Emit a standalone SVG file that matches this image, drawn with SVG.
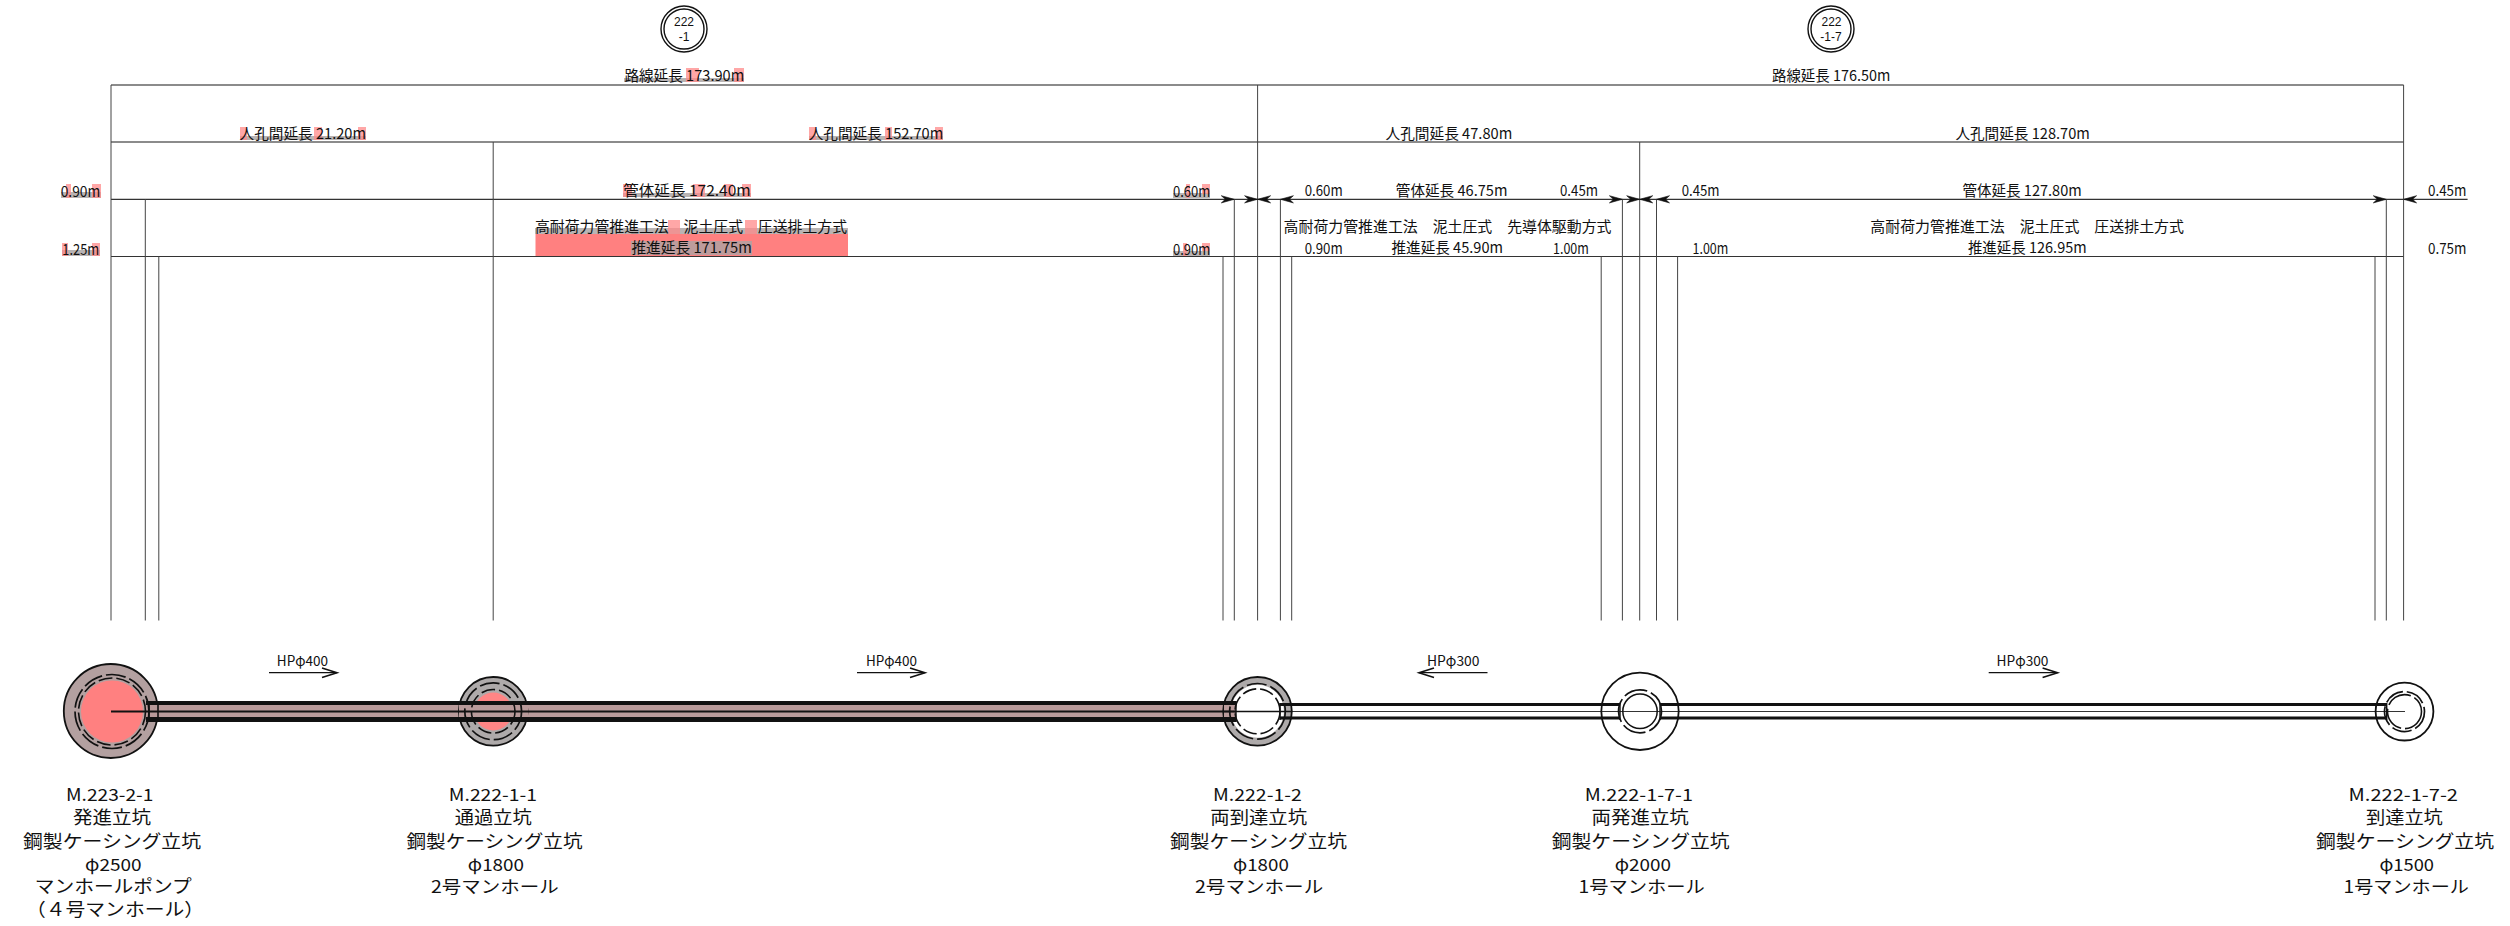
<svg xmlns="http://www.w3.org/2000/svg" width="2510" height="926" viewBox="0 0 2510 926">
<style>
text{font-family:"Noto Sans CJK JP","Liberation Sans",sans-serif;fill:#111}
.d{font-size:15px}
.l{font-size:18px}
.n{font-size:17px}
.h{font-size:14px}
text.t{font-family:"Liberation Sans",sans-serif;font-size:12px;text-anchor:middle}
.g{fill:#b9b4b4}
.p{fill:#ff8a8a;opacity:.75}
.hg{stroke:#666;stroke-width:1.6;fill:none}
.hd{stroke:#333;stroke-width:1.2;fill:none}
.v{stroke:#444;stroke-width:1;fill:none}
.o{fill:none;stroke:#111;stroke-width:1.8}
.o2{fill:none;stroke:#111;stroke-width:1.4}
.ds{fill:none;stroke:#111;stroke-width:1.7;stroke-dasharray:20 4}
.ds2{fill:none;stroke:#111;stroke-width:1.6;stroke-dasharray:14 4}
.pf{fill:#b99a9a}
.w{fill:none;stroke:#111}
.ar{stroke:#111;stroke-width:1.3;fill:none;marker-end:url(#open)}
</style>
<defs>
<marker id="open" markerUnits="userSpaceOnUse" markerWidth="20" markerHeight="14" refX="16" refY="7" orient="auto"><path d="M1,2.2 L16,7 L1,11.8" fill="none" stroke="#111" stroke-width="1.6"/></marker>
<path id="hr" d="M0,0 L-13,-3.6 L-9,0 L-13,3.6 Z" fill="#111" stroke="#111" stroke-width=".6"/>
<path id="hl" d="M0,0 L13,-3.6 L9,0 L13,3.6 Z" fill="#111" stroke="#111" stroke-width=".6"/>
</defs>
<rect width="2510" height="926" fill="#fff"/>

<g id="highlights">
<rect class="g" x="624" y="78" width="120" height="4"/><rect class="p" x="686" y="68" width="13" height="14"/><rect class="p" x="734" y="68" width="10" height="14"/>
<rect class="g" x="240" y="136" width="126" height="4"/><rect class="p" x="240" y="127" width="7" height="13"/><rect class="p" x="314" y="127" width="8" height="13"/><rect class="p" x="358" y="127" width="8" height="13"/>
<rect class="g" x="809" y="136" width="134" height="4"/><rect class="p" x="809" y="127" width="7" height="13"/><rect class="p" x="885" y="127" width="7" height="13"/><rect class="p" x="935" y="127" width="8" height="13"/>
<rect class="g" x="61" y="192" width="40" height="6"/><rect class="p" x="66" y="184" width="5" height="14"/><rect class="p" x="92" y="184" width="9" height="14"/>
<rect class="g" x="623" y="193" width="128" height="4"/><rect class="p" x="623" y="184" width="9" height="13"/><rect class="p" x="693" y="184" width="12" height="13"/><rect class="p" x="724" y="184" width="9" height="13"/><rect class="p" x="742" y="184" width="9" height="13"/>
<rect class="g" x="62" y="250" width="38" height="6"/><rect class="p" x="62" y="243" width="6" height="13"/><rect class="p" x="92" y="243" width="8" height="13"/>
<rect class="g" x="1173" y="193" width="37" height="5"/><rect class="p" x="1186" y="184" width="4" height="14"/><rect class="p" x="1202" y="184" width="8" height="10"/>
<rect class="g" x="1173" y="251" width="37" height="5"/><rect class="p" x="1183" y="243" width="4" height="13"/><rect class="p" x="1202" y="243" width="8" height="8"/>
<rect class="g" x="535" y="228" width="313" height="6"/>
<rect class="p" x="668" y="220" width="12" height="14"/><rect class="p" x="745" y="220" width="12" height="14"/>
<rect x="535.5" y="234" width="312.5" height="22" fill="#ff8080"/>
<rect x="631" y="241" width="121" height="14" fill="#bd9c9c"/>
</g>

<g id="connectors">
<g id="dimension-lines">
<path class="hg" d="M111,85H2403.6M111,142H2403.6"/>
<path class="hd" d="M111,199.3H2467.6M111,256.5H2403.6"/>
<path class="v" d="M111,85V620.5M145.3,199V620.5M158.8,256.5V620.5M493.2,142V620.5M1223,256.5V620.5M1234.3,199V620.5M1257.6,85V620.5M1280.4,199V620.5M1291.7,256.5V620.5M1601.2,256.5V620.5M1622.4,199V620.5M1639.7,142V620.5M1656.5,199V620.5M1677.6,256.5V620.5M2375,256.5V620.5M2386.3,199V620.5M2403.6,85V620.5"/>
<use href="#hr" x="1234.3" y="199.3"/><use href="#hr" x="1257.6" y="199.3"/><use href="#hl" x="1257.6" y="199.3"/><use href="#hl" x="1280.4" y="199.3"/>
<use href="#hr" x="1622.4" y="199.3"/><use href="#hr" x="1639.7" y="199.3"/><use href="#hl" x="1639.7" y="199.3"/><use href="#hl" x="1656.5" y="199.3"/>
<use href="#hr" x="2386.3" y="199.3"/><use href="#hl" x="2403.6" y="199.3"/>
</g>
<g id="pipe-hp400">
<rect class="pf" x="146" y="703" width="1090" height="17"/>
<path class="w" stroke-width="4" d="M146,703H1236"/>
<path class="w" stroke-width="5" d="M146,719.5H1236"/>
<path class="w" stroke-width="1.2" d="M146,701V722M1236,701V722"/>
</g>
<g id="pipe-hp300">
<path class="w" stroke-width="3" d="M1280,704.5H1620M1660,704.5H2386.7"/>
<path class="w" stroke-width="3.2" d="M1280,718H1620M1660,718H2386.7"/>
<path class="w" stroke-width="1.4" d="M1280,703V720M1620,703V720M1660,703V720M2386.7,703V720"/>
</g>
<path id="centre-line" class="w" stroke-width="1.6" d="M111,711.5H146"/>
<path class="w" stroke-width="2.2" d="M146,711.5H1236"/>
<path class="w" stroke-width="1.2" stroke-opacity=".85" d="M1236,711.5H2405"/>
<line class="ar" x1="269" y1="672.7" x2="337" y2="672.7"/>
<line class="ar" x1="857" y1="672.7" x2="925" y2="672.7"/>
<line class="ar" x1="1487.5" y1="672.7" x2="1419" y2="672.7"/>
<line class="ar" x1="1988.7" y1="672.7" x2="2057.6" y2="672.7"/>
<text class="h" x="276.8" y="665.5" textLength="51.2" lengthAdjust="spacingAndGlyphs">HPφ400</text>
<text class="h" x="866" y="665.5" textLength="51" lengthAdjust="spacingAndGlyphs">HPφ400</text>
<text class="h" x="1427" y="665.5" textLength="52.5" lengthAdjust="spacingAndGlyphs">HPφ300</text>
<text class="h" x="1996.5" y="665.5" textLength="52" lengthAdjust="spacingAndGlyphs">HPφ300</text>
</g>

<g id="dimension-labels">
<text class="d" x="624.4" y="81" textLength="119.8" lengthAdjust="spacingAndGlyphs">路線延長 173.90m</text>
<text class="d" x="1772" y="81" textLength="118.4" lengthAdjust="spacingAndGlyphs">路線延長 176.50m</text>
<text class="d" x="239.6" y="139" textLength="126.4" lengthAdjust="spacingAndGlyphs">人孔間延長 21.20m</text>
<text class="d" x="808.7" y="139" textLength="134.5" lengthAdjust="spacingAndGlyphs">人孔間延長 152.70m</text>
<text class="d" x="1385.5" y="139" textLength="126.8" lengthAdjust="spacingAndGlyphs">人孔間延長 47.80m</text>
<text class="d" x="1955.4" y="139" textLength="134.4" lengthAdjust="spacingAndGlyphs">人孔間延長 128.70m</text>
<text class="d" x="60.7" y="197" textLength="39.6" lengthAdjust="spacingAndGlyphs">0.90m</text>
<text class="d" x="623.3" y="196" textLength="127.4" lengthAdjust="spacingAndGlyphs">管体延長 172.40m</text>
<text class="d" x="1173" y="197" textLength="37.4" lengthAdjust="spacingAndGlyphs">0.60m</text>
<text class="d" x="1304.7" y="196" textLength="38" lengthAdjust="spacingAndGlyphs">0.60m</text>
<text class="d" x="1395.8" y="196" textLength="111.7" lengthAdjust="spacingAndGlyphs">管体延長 46.75m</text>
<text class="d" x="1560" y="196" textLength="38" lengthAdjust="spacingAndGlyphs">0.45m</text>
<text class="d" x="1681.7" y="196" textLength="37.9" lengthAdjust="spacingAndGlyphs">0.45m</text>
<text class="d" x="1962.4" y="196" textLength="119.3" lengthAdjust="spacingAndGlyphs">管体延長 127.80m</text>
<text class="d" x="2428" y="196" textLength="38.5" lengthAdjust="spacingAndGlyphs">0.45m</text>
<text class="d" x="535" y="231.5" textLength="312" lengthAdjust="spacingAndGlyphs">高耐荷力管推進工法　泥土圧式　圧送排土方式</text>
<text class="d" x="1283.6" y="231.5" textLength="327.9" lengthAdjust="spacingAndGlyphs">高耐荷力管推進工法　泥土圧式　先導体駆動方式</text>
<text class="d" x="1870.3" y="231.5" textLength="313.7" lengthAdjust="spacingAndGlyphs">高耐荷力管推進工法　泥土圧式　圧送排土方式</text>
<text class="d" x="62.3" y="254.5" textLength="36.9" lengthAdjust="spacingAndGlyphs">1.25m</text>
<text class="d" x="631.4" y="253" textLength="120.4" lengthAdjust="spacingAndGlyphs">推進延長 171.75m</text>
<text class="d" x="1173" y="254.5" textLength="37.4" lengthAdjust="spacingAndGlyphs">0.90m</text>
<text class="d" x="1304.7" y="254" textLength="38" lengthAdjust="spacingAndGlyphs">0.90m</text>
<text class="d" x="1391.5" y="253" textLength="111.5" lengthAdjust="spacingAndGlyphs">推進延長 45.90m</text>
<text class="d" x="1553" y="254" textLength="35.8" lengthAdjust="spacingAndGlyphs">1.00m</text>
<text class="d" x="1692.5" y="254" textLength="35.8" lengthAdjust="spacingAndGlyphs">1.00m</text>
<text class="d" x="1967.9" y="253" textLength="118.7" lengthAdjust="spacingAndGlyphs">推進延長 126.95m</text>
<text class="d" x="2428" y="254" textLength="38.5" lengthAdjust="spacingAndGlyphs">0.75m</text>
</g>

<g id="sheet-222-1">
<circle class="o2" cx="684" cy="29" r="23"/><circle class="o2" cx="684" cy="29" r="20"/>
<text class="t" x="684" y="26.3">222</text>
<text class="t" x="684" y="40.6">-1</text>
</g>
<g id="sheet-222-1-7">
<circle class="o2" cx="1831" cy="29" r="23"/><circle class="o2" cx="1831" cy="29" r="20"/>
<text class="t" x="1831.5" y="26.3">222</text>
<text class="t" x="1831" y="40.6">-1-7</text>
</g>

<g id="mh-223-2-1">
<circle cx="110.8" cy="711" r="47" fill="#b3a0a0" stroke="#111" stroke-width="1.8"/>
<circle cx="112" cy="711.5" r="31" fill="#ff8080"/>
<rect class="pf" x="146" y="703" width="13" height="17"/>
<path class="w" stroke-width="4" d="M146,703H159"/><path class="w" stroke-width="5" d="M146,719.5H159"/><path class="w" stroke-width="2.2" d="M111,711.5H159"/>
<circle class="ds" cx="112" cy="711.5" r="37"/><circle class="ds2" cx="112" cy="711.5" r="33.5"/>
<path class="w" stroke-width="1.6" d="M158,701V722M149,701V722"/>
<text class="n" x="66" y="800.5" textLength="87.4" lengthAdjust="spacingAndGlyphs">M.223-2-1</text>
<text class="l" x="73" y="824" textLength="78" lengthAdjust="spacingAndGlyphs">発進立坑</text>
<text class="l" x="23" y="848" textLength="178" lengthAdjust="spacingAndGlyphs">鋼製ケーシング立坑</text>
<text class="n" x="85" y="870.5" textLength="56.6" lengthAdjust="spacingAndGlyphs">φ2500</text>
<text class="l" x="34.8" y="893" textLength="157" lengthAdjust="spacingAndGlyphs">マンホールポンプ</text>
<text class="l" x="26" y="916" textLength="178" lengthAdjust="spacingAndGlyphs">（４号マンホール）</text>
</g>

<g id="mh-222-1-1">
<circle cx="493.2" cy="711.3" r="34.3" fill="#aeaaaa" stroke="#111" stroke-width="1.8"/>
<circle cx="493.2" cy="711.5" r="19" fill="#ff8585"/>
<rect class="pf" x="459" y="703" width="69" height="17"/>
<path class="w" stroke-width="4" d="M459,703H528"/><path class="w" stroke-width="5" d="M459,719.5H528"/><path class="w" stroke-width="2.2" d="M459,711.5H528"/>
<circle class="ds" cx="493.2" cy="711.3" r="28.4"/><circle class="ds2" cx="493.2" cy="711.3" r="21.8"/>
<text class="n" x="448.8" y="800.5" textLength="88.2" lengthAdjust="spacingAndGlyphs">M.222-1-1</text>
<text class="l" x="454.7" y="824" textLength="77" lengthAdjust="spacingAndGlyphs">通過立坑</text>
<text class="l" x="406.5" y="848" textLength="176" lengthAdjust="spacingAndGlyphs">鋼製ケーシング立坑</text>
<text class="n" x="467.8" y="870.5" textLength="56.2" lengthAdjust="spacingAndGlyphs">φ1800</text>
<text class="n" x="431" y="893" textLength="127.7" lengthAdjust="spacingAndGlyphs">2号マンホール</text>
</g>

<g id="mh-222-1-2">
<circle cx="1257.5" cy="711.3" r="34.3" fill="#aeaaaa" stroke="#111" stroke-width="1.8"/>
<circle cx="1257.5" cy="711.3" r="26.5" fill="#fff"/>
<rect class="pf" x="1224" y="703" width="12" height="17"/>
<path class="w" stroke-width="4" d="M1224,703H1236"/><path class="w" stroke-width="5" d="M1224,719.5H1236"/><path class="w" stroke-width="2.2" d="M1224,711.5H1236"/>
<path class="w" stroke-width="3" d="M1280,704.5H1291"/><path class="w" stroke-width="3.2" d="M1280,718H1291"/>
<path class="w" stroke-width="1.4" d="M1236,701V722M1280,703V720M1236,711.5H1291"/>
<circle class="ds" cx="1257.5" cy="711.3" r="27.8"/><circle class="ds2" cx="1257.5" cy="711.3" r="22.5"/>
<text class="n" x="1213" y="800.5" textLength="88.8" lengthAdjust="spacingAndGlyphs">M.222-1-2</text>
<text class="l" x="1210.3" y="824" textLength="96.7" lengthAdjust="spacingAndGlyphs">両到達立坑</text>
<text class="l" x="1170" y="848" textLength="177" lengthAdjust="spacingAndGlyphs">鋼製ケーシング立坑</text>
<text class="n" x="1233" y="870.5" textLength="55.8" lengthAdjust="spacingAndGlyphs">φ1800</text>
<text class="n" x="1195" y="893" textLength="128.2" lengthAdjust="spacingAndGlyphs">2号マンホール</text>
</g>

<g id="mh-222-1-7-1">
<circle class="o" cx="1640" cy="711.3" r="38.7"/>
<circle class="ds" cx="1640" cy="711.3" r="21.5" style="stroke-dasharray:24 4"/>
<circle cx="1640" cy="711.3" r="17.2" fill="none" stroke="#111" stroke-width="1.5"/>
<text class="n" x="1584.8" y="800.5" textLength="108.1" lengthAdjust="spacingAndGlyphs">M.222-1-7-1</text>
<text class="l" x="1591.5" y="824" textLength="97.3" lengthAdjust="spacingAndGlyphs">両発進立坑</text>
<text class="l" x="1551.8" y="848" textLength="177.7" lengthAdjust="spacingAndGlyphs">鋼製ケーシング立坑</text>
<text class="n" x="1614.7" y="870.5" textLength="56.3" lengthAdjust="spacingAndGlyphs">φ2000</text>
<text class="n" x="1578.6" y="893" textLength="126.3" lengthAdjust="spacingAndGlyphs">1号マンホール</text>
</g>

<g id="mh-222-1-7-2">
<circle class="o" cx="2404.5" cy="711.6" r="28.9"/>
<circle class="ds" cx="2404.5" cy="711.6" r="20"/>
<circle class="ds2" cx="2404.5" cy="711.6" r="17" style="stroke-dasharray:26 4"/>
<text class="n" x="2348.6" y="800.5" textLength="109.4" lengthAdjust="spacingAndGlyphs">M.222-1-7-2</text>
<text class="l" x="2366" y="824" textLength="76.8" lengthAdjust="spacingAndGlyphs">到達立坑</text>
<text class="l" x="2316" y="848" textLength="178" lengthAdjust="spacingAndGlyphs">鋼製ケーシング立坑</text>
<text class="n" x="2379.4" y="870.5" textLength="54.6" lengthAdjust="spacingAndGlyphs">φ1500</text>
<text class="n" x="2343.6" y="893" textLength="125.4" lengthAdjust="spacingAndGlyphs">1号マンホール</text>
</g>
</svg>
